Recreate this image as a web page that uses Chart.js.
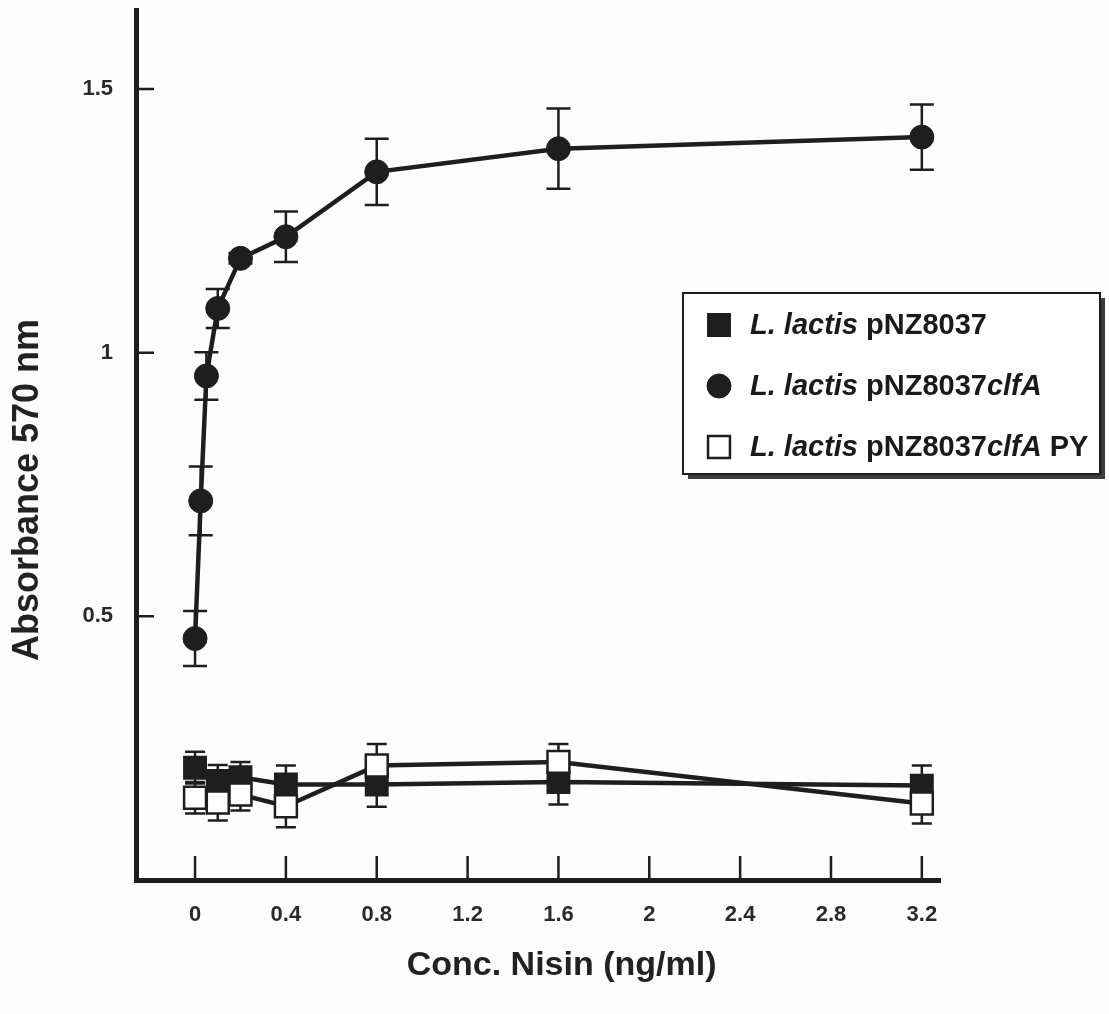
<!DOCTYPE html>
<html>
<head>
<meta charset="utf-8">
<title>Nisin induction - absorbance 570 nm</title>
<script src="https://cdn.jsdelivr.net/npm/chart.js@4.4.1/dist/chart.umd.min.js"></script>
<style>
html, body { margin: 0; padding: 0; background: #fdfdfd; }
#wrap { width: 1109px; height: 1014px; }
</style>
</head>
<body>
<div id="wrap"><canvas id="nisinChart" width="1109" height="1014"></canvas></div>
<script>
/* values: mean absorbance and error (+/-) per nisin concentration */
const concClfA = [0, 0.025, 0.05, 0.1, 0.2, 0.4, 0.8, 1.6, 3.2];
const absClfA = [0.458, 0.719, 0.956, 1.084, 1.179, 1.220, 1.343, 1.387, 1.409];
const errClfA = [0.052, 0.065, 0.045, 0.037, 0.010, 0.048, 0.063, 0.076, 0.062];

const concCtrl = [0, 0.1, 0.2, 0.4, 0.8, 1.6, 3.2];
const absVector = [0.213, 0.188, 0.195, 0.181, 0.181, 0.186, 0.179];
const errVector = [0.030, 0.030, 0.029, 0.036, 0.042, 0.043, 0.038];
const absPY = [0.156, 0.147, 0.162, 0.140, 0.217, 0.224, 0.145];
const errPY = [0.030, 0.034, 0.030, 0.040, 0.041, 0.034, 0.038];

const xTicks = [0, 0.4, 0.8, 1.2, 1.6, 2, 2.4, 2.8, 3.2];
const yTicks = [0.5, 1, 1.5];

// legend text, split into [text, italic] pieces
const legendParts = [
    [["L. lactis", true], [" pNZ8037", false]],
    [["L. lactis", true], [" pNZ8037", false], ["clfA", true]],
    [["L. lactis", true], [" pNZ8037", false], ["clfA", true], [" PY", false]]
];
const legendOrder = [0, 1, 2];

const ink = "#1e1e1e";
const fontFam = "'Liberation Sans', Arial, Helvetica, sans-serif";
Chart.defaults.font.family = fontFam;
Chart.defaults.color = "#2a2a2a";

function toPoints(xs, ys){
    return xs.map((v, i) => ({x: v, y: ys[i]}));
}

// whiskers go under the markers
const errorBars = {
    id: "errorBars",
    beforeDatasetsDraw(chart){
        const ctx = chart.ctx;
        const xs = chart.scales.x, ys = chart.scales.y;
        chart.data.datasets.forEach(ds => {
            if(!ds.errors) return;
            ctx.save();
            ctx.strokeStyle = ink;
            ctx.lineWidth = 2.5;
            ctx.beginPath();
            ds.data.forEach((p, j) => {
                const px = xs.getPixelForValue(p.x);
                const top = ys.getPixelForValue(p.y + ds.errors[j]);
                const bot = ys.getPixelForValue(p.y - ds.errors[j]);
                const cap = ds.capHalf;
                ctx.moveTo(px, top); ctx.lineTo(px, bot);
                ctx.moveTo(px - cap, top); ctx.lineTo(px + cap, top);
                ctx.moveTo(px - cap, bot); ctx.lineTo(px + cap, bot);
            });
            ctx.stroke();
            ctx.restore();
        });
    }
};

// tick marks point inwards in the original figure
const innerTicks = {
    id: "innerTicks",
    beforeDatasetsDraw(chart){
        const {ctx, chartArea} = chart;
        const xs = chart.scales.x, ys = chart.scales.y;
        ctx.save();
        ctx.strokeStyle = ink;
        ctx.lineWidth = 2.5;
        ctx.beginPath();
        xs.ticks.forEach(t => {
            const px = xs.getPixelForValue(t.value);
            ctx.moveTo(px, chartArea.bottom);
            ctx.lineTo(px, chartArea.bottom - 24);
        });
        ys.ticks.forEach(t => {
            const py = ys.getPixelForValue(t.value);
            ctx.moveTo(chartArea.left, py);
            ctx.lineTo(chartArea.left + 18, py);
        });
        ctx.stroke();
        ctx.restore();
    }
};

// boxed legend with drop shadow, sitting inside the plot
const boxLegend = {
    id: "boxLegend",
    afterDraw(chart){
        const ctx = chart.ctx;
        const bx = 683, by = 293, bw = 417, bh = 181;
        ctx.save();
        ctx.fillStyle = "#3c3c3c";
        ctx.fillRect(bx + 5, by + 5, bw, bh);
        ctx.fillStyle = "#ffffff";
        ctx.fillRect(bx, by, bw, bh);
        ctx.lineWidth = 2;
        ctx.strokeStyle = ink;
        ctx.strokeRect(bx, by, bw, bh);
        legendOrder.forEach((di, row) => {
            const ds = chart.data.datasets[di];
            const cy = by + 32 + row * 61;
            ctx.fillStyle = ds.pointBackgroundColor;
            ctx.strokeStyle = ds.pointBorderColor;
            ctx.lineWidth = ds.pointBorderWidth;
            Chart.helpers.drawPoint(ctx, {
                pointStyle: ds.pointStyle,
                radius: ds.pointRadius,
                borderWidth: ds.pointBorderWidth,
                rotation: 0
            }, 719, cy);
            let tx = 750;
            ctx.fillStyle = "#1a1a1a";
            ctx.textBaseline = "middle";
            ctx.textAlign = "left";
            legendParts[row].forEach(([txt, it]) => {
                ctx.font = (it ? "italic " : "") + "bold 29px " + fontFam;
                ctx.fillText(txt, tx, cy + 1);
                tx += ctx.measureText(txt).width;
            });
        });
        ctx.restore();
    }
};

const datasets = [
    {
        label: "L. lactis pNZ8037",
        data: toPoints(concCtrl, absVector),
        errors: errVector,
        capHalf: 10,
        borderColor: ink,
        borderWidth: 4.5,
        pointStyle: "rect",
        pointRadius: 15.5,
        pointBackgroundColor: ink,
        pointBorderColor: ink,
        pointBorderWidth: 2,
        order: 1
    },
    {
        label: "L. lactis pNZ8037clfA",
        data: toPoints(concClfA, absClfA),
        errors: errClfA,
        capHalf: 12,
        borderColor: ink,
        borderWidth: 4.5,
        pointStyle: "circle",
        pointRadius: 12,
        pointBackgroundColor: ink,
        pointBorderColor: ink,
        pointBorderWidth: 1,
        order: 2
    },
    {
        label: "L. lactis pNZ8037clfA PY",
        data: toPoints(concCtrl, absPY),
        errors: errPY,
        capHalf: 10,
        borderColor: ink,
        borderWidth: 4.5,
        pointStyle: "rect",
        pointRadius: 15.5,
        pointBackgroundColor: "#ffffff",
        pointBorderColor: ink,
        pointBorderWidth: 2.5,
        order: 0
    }
];

new Chart(document.getElementById("nisinChart").getContext("2d"), {
    type: "line",
    data: {datasets: datasets},
    options: {
        responsive: false,
        animation: false,
        layout: {autoPadding: false, padding: {left: 0, right: 169, top: 10, bottom: 0}},
        elements: {line: {tension: 0}},
        scales: {
            x: {
                type: "linear",
                min: -0.26,
                max: 3.28,
                grid: {display: false},
                border: {display: true, width: 5, color: ink},
                afterBuildTicks: s => { s.ticks = xTicks.map(v => ({value: v})); },
                afterFit: s => { s.height = 134; },
                ticks: {
                    padding: 14,
                    maxRotation: 0,
                    autoSkip: false,
                    color: "#2a2a2a",
                    font: {size: 22, weight: "bold"},
                    callback: v => String(v)
                },
                title: {
                    display: true,
                    text: "     Conc. Nisin (ng/ml)",
                    color: "#222",
                    font: {size: 34, weight: "bold"},
                    padding: {top: 0, bottom: 28}
                }
            },
            y: {
                min: 0,
                max: 1.65,
                grid: {display: false},
                border: {display: true, width: 5, color: ink},
                afterBuildTicks: s => { s.ticks = yTicks.map(v => ({value: v})); },
                afterFit: s => {
                    s.width = 136;
                    // axis line should start right at the top padding
                    s.paddingTop = 0;
                    s.paddingBottom = 0;
                },
                ticks: {
                    padding: 15,
                    color: "#2a2a2a",
                    font: {size: 22, weight: "bold"},
                    callback: v => String(v)
                },
                title: {
                    display: true,
                    text: "Absorbance 570 nm         ",
                    color: "#222",
                    font: {size: 36, weight: "bold"},
                    padding: {top: 6, bottom: 0}
                }
            }
        },
        plugins: {
            legend: {display: false},
            tooltip: {enabled: false}
        }
    },
    plugins: [errorBars, innerTicks, boxLegend]
});
</script>
</body>
</html>
